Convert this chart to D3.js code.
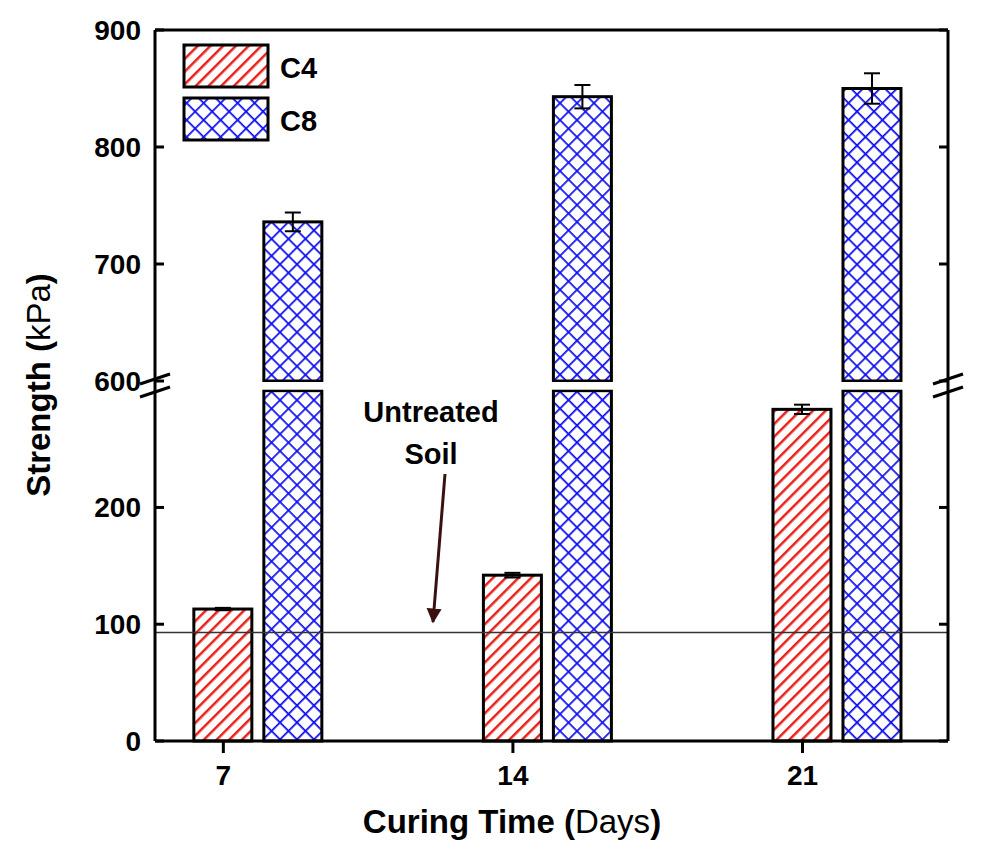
<!DOCTYPE html>
<html><head><meta charset="utf-8">
<script src="https://cdn.jsdelivr.net/npm/d3@7"></script>
<style>body{margin:0;background:#fff}text{font-family:Arial,"Liberation Sans",sans-serif}</style>
</head><body><div id="chart"></div>
<script>
// data
var days = [7, 14, 21];
var c4 = [113, 142, 284];
var c4Err = [1, 2, 4];
var c8 = [736, 843, 850];
var c8Err = [8, 10, 13];
var untreated = 93;
var lowTicks = [0, 100, 200];
var highTicks = [600, 700, 800, 900];

var svg = d3.select("#chart").append("svg").attr("width", 1000).attr("height", 849);
var pLeft = 155, pRight = 948, pBottom = 741, pTop = 30;

var x = d3.scaleLinear().domain([5.36, 24.53]).range([pLeft, pRight]);
var yLow = d3.scaleLinear().domain([0, 298]).range([pBottom, 393]);
var yHigh = d3.scaleLinear().domain([600, 900]).range([381, pTop]);
function y(v) { return v <= 300 ? yLow(v) : yHigh(v); }

var defs = svg.append("defs");
var p1 = defs.append("pattern").attr("id", "hatchRed").attr("patternUnits", "userSpaceOnUse")
  .attr("width", 9).attr("height", 9).attr("patternTransform", "rotate(45)");
p1.append("rect").attr("width", 9).attr("height", 9).attr("fill", "#fff");
p1.append("line").attr("x1", 0).attr("y1", 0).attr("x2", 0).attr("y2", 9)
  .attr("stroke", "#e8211c").attr("stroke-width", 5);
var p2 = defs.append("pattern").attr("id", "hatchBlue").attr("patternUnits", "userSpaceOnUse")
  .attr("width", 12).attr("height", 12).attr("patternTransform", "rotate(45)");
p2.append("rect").attr("width", 12).attr("height", 12).attr("fill", "#fff");
p2.append("line").attr("x1", 0).attr("y1", 0).attr("x2", 0).attr("y2", 12).attr("stroke", "#1010f0").attr("stroke-width", 3.5);
p2.append("line").attr("x1", 0).attr("y1", 0).attr("x2", 12).attr("y2", 0).attr("stroke", "#1010f0").attr("stroke-width", 3.5);

var bw = 58;
function drawBars(vals, errs, off, fill) {
  vals.forEach(function(v, i) {
    var x0 = x(days[i]) + off;
    if (v <= 300) {
      svg.append("rect").attr("x", x0).attr("y", yLow(v)).attr("width", bw).attr("height", pBottom - yLow(v))
        .attr("fill", fill).attr("stroke", "#000").attr("stroke-width", 3);
    } else {
      svg.append("rect").attr("x", x0).attr("y", yLow(300)).attr("width", bw).attr("height", pBottom - yLow(300))
        .attr("fill", fill).attr("stroke", "#000").attr("stroke-width", 3);
      svg.append("rect").attr("x", x0).attr("y", yHigh(v)).attr("width", bw).attr("height", yHigh(600) - yHigh(v))
        .attr("fill", fill).attr("stroke", "#000").attr("stroke-width", 3);
      svg.append("rect").attr("x", x0 - 3).attr("y", yHigh(600) + 1).attr("width", bw + 6).attr("height", yLow(300) - yHigh(600) - 2).attr("fill", "#fff");
    }
    var cx = x0 + bw / 2, e = errs[i];
    var g = svg.append("g").attr("stroke", "#000").attr("stroke-width", 2);
    g.append("line").attr("x1", cx).attr("x2", cx).attr("y1", y(v - e)).attr("y2", y(v + e));
    g.append("line").attr("x1", cx - 8).attr("x2", cx + 8).attr("y1", y(v + e)).attr("y2", y(v + e));
    g.append("line").attr("x1", cx - 8).attr("x2", cx + 8).attr("y1", y(v - e)).attr("y2", y(v - e));
  });
}
drawBars(c4, c4Err, -29, "url(#hatchRed)");
drawBars(c8, c8Err, 41, "url(#hatchBlue)");

// untreated soil line
svg.append("line").attr("x1", pLeft).attr("x2", pRight).attr("y1", yLow(untreated)).attr("y2", yLow(untreated))
  .attr("stroke", "#333").attr("stroke-width", 1.5);

// axes frame
var ax = svg.append("g").attr("stroke", "#000").attr("stroke-width", 3).attr("fill", "none");
ax.append("line").attr("x1", pLeft).attr("x2", pRight).attr("y1", pBottom).attr("y2", pBottom);
ax.append("line").attr("x1", pLeft).attr("x2", pRight).attr("y1", pTop).attr("y2", pTop);
ax.append("line").attr("x1", pLeft).attr("x2", pLeft).attr("y1", pTop).attr("y2", pBottom);
ax.append("line").attr("x1", pRight).attr("x2", pRight).attr("y1", pTop).attr("y2", pBottom);
[pLeft, pRight].forEach(function(xx) {
  [379, 392].forEach(function(yy) {
    svg.append("line").attr("x1", xx - 15).attr("x2", xx + 15).attr("y1", yy + 5).attr("y2", yy - 5)
      .attr("stroke", "#000").attr("stroke-width", 3);
  });
});

// y ticks
var ticks = lowTicks.map(function(t){return [t, yLow(t)];}).concat(highTicks.map(function(t){return [t, yHigh(t)];}));
ticks.forEach(function(t) {
  svg.append("line").attr("x1", pLeft).attr("x2", pLeft + 9).attr("y1", t[1]).attr("y2", t[1]).attr("stroke", "#000").attr("stroke-width", 3);
  svg.append("line").attr("x1", pRight - 9).attr("x2", pRight).attr("y1", t[1]).attr("y2", t[1]).attr("stroke", "#000").attr("stroke-width", 3);
  svg.append("text").attr("x", pLeft - 14).attr("y", t[1] + 10).attr("text-anchor", "end")
    .attr("font-size", 28).attr("font-weight", "bold").text(t[0]);
});
// x ticks
var xAxis = d3.axisBottom(x).tickValues(days).tickSize(12).tickFormat(d3.format("d"));
var xg = svg.append("g").attr("transform", "translate(0," + pBottom + ")").call(xAxis);
xg.select(".domain").remove();
xg.selectAll("line").attr("stroke-width", 3);
xg.selectAll("text").attr("font-size", 28).attr("font-weight", "bold").attr("dy", "1.05em")
  .style("font-family", "Arial, 'Liberation Sans', sans-serif");

// axis titles
svg.append("text").attr("x", 512).attr("y", 833).attr("text-anchor", "middle").attr("font-size", 33)
  .html('<tspan font-weight="bold">Curing Time (</tspan><tspan>Days</tspan><tspan font-weight="bold">)</tspan>');
svg.append("text").attr("transform", "translate(50,385) rotate(-90)").attr("text-anchor", "middle").attr("font-size", 33)
  .html('<tspan font-weight="bold">Strength (</tspan><tspan>kPa</tspan><tspan font-weight="bold">)</tspan>');

// annotation
svg.append("text").attr("x", 431).attr("y", 422).attr("text-anchor", "middle").attr("font-size", 29).attr("font-weight", "bold").text("Untreated");
svg.append("text").attr("x", 431).attr("y", 464).attr("text-anchor", "middle").attr("font-size", 29).attr("font-weight", "bold").text("Soil");
defs.append("marker").attr("id", "arr").attr("viewBox", "0 0 10 10").attr("refX", 9).attr("refY", 5)
  .attr("markerWidth", 5).attr("markerHeight", 7).attr("orient", "auto")
  .append("path").attr("d", "M0,0L10,5L0,10z").attr("fill", "#3a1010");
svg.append("line").attr("x1", 445).attr("y1", 474).attr("x2", 433).attr("y2", 622)
  .attr("stroke", "#3a1010").attr("stroke-width", 3).attr("marker-end", "url(#arr)");

// legend
var leg = [["C4", "url(#hatchRed)"], ["C8", "url(#hatchBlue)"]];
leg.forEach(function(l, i) {
  svg.append("rect").attr("x", 184).attr("y", 45 + i * 53).attr("width", 84).attr("height", 42)
    .attr("fill", l[1]).attr("stroke", "#000").attr("stroke-width", 3);
  svg.append("text").attr("x", 280).attr("y", 78 + i * 53).attr("font-size", 29).attr("font-weight", "bold").text(l[0]);
});
</script></body></html>
